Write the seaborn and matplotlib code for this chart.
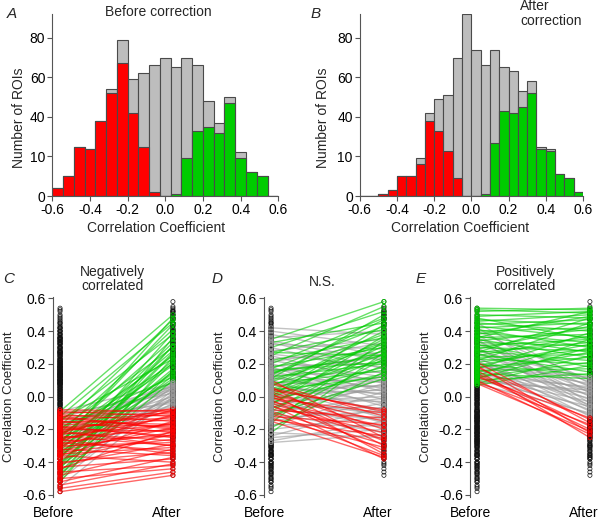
import numpy as np
import pandas as pd
import seaborn as sns
import matplotlib.pyplot as plt

# ---- histogram counts (panels A and B) ----
edges_A = np.linspace(-0.6, 0.6, 22)
total_A = [4, 10, 25, 24, 38, 54, 79, 59, 62, 66, 70, 65, 70, 66, 48, 37, 50, 22, 12, 10, 0]
red_A = [4, 10, 25, 24, 38, 52, 67, 42, 25, 2, 0, 0, 0, 0, 0, 0, 0, 0, 0, 0, 0]
green_A = [0, 0, 0, 0, 0, 0, 0, 0, 0, 0, 0, 1, 19, 33, 35, 32, 47, 19, 12, 10, 0]

edges_B = np.linspace(-0.6, 0.6, 25)
total_B = [0, 0, 1, 3, 10, 10, 19, 42, 49, 51, 70, 92, 74, 66, 74, 65, 63, 53, 58, 25, 24, 11, 9, 2]
red_B = [0, 0, 1, 3, 10, 10, 16, 38, 33, 23, 9, 0, 0, 0, 0, 0, 0, 0, 0, 0, 0, 0, 0, 0]
green_B = [0, 0, 0, 0, 0, 0, 0, 0, 0, 0, 0, 0, 0, 1, 27, 43, 42, 45, 52, 24, 23, 11, 9, 2]

hist_yticks = [0, 20, 40, 60, 80]
hist_ylabels = ['0', '10', '40', '60', '80']
r_ticks = [-0.6, -0.4, -0.2, 0.0, 0.2, 0.4, 0.6]
r_labels = ['-0.6', '-0.4', '-0.2', '0.0', '0.2', '0.4', '0.6']

# ---- ROI correlation before / after (panels C, D, E) ----
# C: negatively correlated before correction
c_before = [-0.08, -0.09, -0.10, -0.11, -0.12, -0.13, -0.14, -0.15, -0.16, -0.17, -0.18, -0.19, -0.20,
            -0.21, -0.22, -0.23, -0.24, -0.25, -0.26, -0.27, -0.28, -0.29, -0.30, -0.31, -0.32, -0.33,
            -0.34, -0.35, -0.36, -0.38, -0.40, -0.41, -0.43, -0.44, -0.46, -0.48, -0.50, -0.52, -0.54,
            -0.56, -0.58, -0.22, -0.26, -0.19, -0.30, -0.15, -0.21, -0.27, -0.12, -0.36,
            -0.09, -0.12, -0.15, -0.18, -0.20, -0.22, -0.24, -0.25, -0.27, -0.28, -0.30, -0.31, -0.33,
            -0.35, -0.36, -0.38, -0.40, -0.41, -0.43, -0.44, -0.46, -0.47, -0.49, -0.50, -0.52, -0.19,
            -0.23, -0.29, -0.34, -0.42, -0.14, -0.26, -0.37,
            -0.09, -0.11, -0.13, -0.16, -0.18, -0.21, -0.23, -0.26, -0.28, -0.31, -0.33, -0.35, -0.38,
            -0.40, -0.42, -0.45, -0.47, -0.51, -0.55, -0.20, -0.24, -0.17, -0.29, -0.36, -0.14]
c_after = [-0.09, -0.12, -0.08, -0.15, -0.10, -0.19, -0.11, -0.22, -0.13, -0.18, -0.25, -0.14, -0.21,
           -0.09, -0.27, -0.17, -0.30, -0.20, -0.12, -0.24, -0.33, -0.16, -0.28, -0.22, -0.36, -0.19,
           -0.26, -0.31, -0.40, -0.23, -0.34, -0.29, -0.38, -0.21, -0.42, -0.32, -0.44, -0.37, -0.41,
           -0.46, -0.48, -0.07, -0.35, -0.24, -0.11, -0.17, -0.30, -0.08, -0.20, -0.15,
           0.50, 0.45, 0.38, 0.47, 0.30, 0.41, 0.25, 0.35, 0.19, 0.44, 0.28, 0.14, 0.33,
           0.22, 0.11, 0.39, 0.17, 0.27, 0.13, 0.31, 0.21, 0.10, 0.36, 0.16, 0.24, 0.12,
           0.20, 0.48, 0.15, 0.26, 0.23, 0.09, 0.31,
           0.08, 0.02, 0.06, -0.03, 0.04, 0.00, 0.07, -0.05, 0.03, 0.08, -0.02, 0.05, 0.01,
           -0.04, 0.06, 0.02, -0.01, 0.04, 0.00, 0.09, -0.06, 0.05, -0.01, 0.07, -0.04]
c_group = ['neg'] * 50 + ['pos'] * 33 + ['ns'] * 25

# D: not significant before correction
d_before = [0.42, 0.40, 0.38, 0.36, 0.34, 0.32, 0.30, 0.28, 0.26, 0.25, 0.23, 0.22, 0.20, 0.19, 0.18,
            0.17, 0.16, 0.15, 0.14, 0.13, 0.12, 0.11, 0.10, 0.09, 0.08, 0.07, 0.06, 0.05, 0.04, 0.03,
            0.02, 0.01, 0.00, -0.01, -0.02, -0.03, -0.04, -0.05, -0.06, -0.07, -0.08, -0.09, -0.10,
            -0.12, -0.13, -0.15, -0.17, -0.18, -0.20, -0.22, -0.24, -0.25, -0.27, -0.28, 0.21, 0.33,
            0.14, -0.11,
            0.35, 0.33, 0.30, 0.27, 0.25, 0.22, 0.20, 0.18, 0.17, 0.15, 0.14, 0.12, 0.11, 0.10, 0.08,
            0.07, 0.06, 0.05, 0.04, 0.03, 0.02, 0.01, 0.00, -0.01, -0.02, -0.04, -0.05, -0.07, -0.09,
            -0.11, -0.13, -0.16, -0.19, -0.22, 0.16, 0.13, 0.09, 0.27,
            0.10, 0.08, 0.06, 0.04, 0.03, 0.02, 0.01, 0.00, -0.01, -0.02, -0.03, -0.05, -0.06, -0.08,
            -0.09, -0.10, -0.12, -0.13, -0.14, -0.15, 0.05, -0.04]
d_after = [0.38, 0.31, 0.25, 0.40, 0.22, 0.29, 0.14, 0.35, 0.18, 0.08, 0.27, 0.12, 0.03, 0.20, -0.02,
           0.10, 0.24, 0.05, -0.06, 0.15, 0.01, 0.09, -0.10, 0.06, -0.04, 0.12, -0.13, 0.02, -0.08, 0.07,
           -0.16, 0.04, -0.03, 0.10, -0.11, 0.00, -0.19, 0.05, -0.07, 0.13, -0.14, -0.01, -0.22,
           0.08, -0.09, -0.04, -0.18, 0.03, -0.12, -0.25, -0.06, -0.20, -0.15, -0.23, 0.33, 0.17,
           0.26, 0.11,
           0.58, 0.45, 0.52, 0.41, 0.55, 0.36, 0.48, 0.30, 0.43, 0.25, 0.38, 0.20, 0.50, 0.33, 0.16,
           0.28, 0.40, 0.22, 0.12, 0.35, 0.26, 0.18, 0.44, 0.31, 0.14, 0.24, 0.37, 0.19, 0.29,
           0.11, 0.23, 0.34, 0.15, 0.27, 0.21, 0.47, 0.32, 0.25,
           -0.25, -0.12, -0.30, -0.08, -0.20, -0.35, -0.15, -0.27, -0.10, -0.33, -0.18, -0.38, -0.22,
           -0.13, -0.29, -0.36, -0.17, -0.31, -0.24, -0.37, -0.09, -0.26]
d_group = ['ns'] * 58 + ['pos'] * 38 + ['neg'] * 22

# E: positively correlated before correction
e_before = [0.54, 0.53, 0.52, 0.50, 0.49, 0.47, 0.46, 0.45, 0.44, 0.43, 0.42, 0.41, 0.40, 0.39, 0.38,
            0.37, 0.36, 0.35, 0.34, 0.33, 0.32, 0.31, 0.30, 0.29, 0.28, 0.27, 0.26, 0.25, 0.24, 0.23,
            0.22, 0.21, 0.20, 0.19, 0.18, 0.17, 0.16, 0.15, 0.14, 0.13, 0.12, 0.11, 0.10, 0.08, 0.07,
            0.48, 0.36, 0.27,
            0.45, 0.42, 0.40, 0.38, 0.36, 0.34, 0.32, 0.30, 0.29, 0.27, 0.26, 0.24, 0.23, 0.21, 0.20,
            0.19, 0.17, 0.16, 0.15, 0.14, 0.13, 0.12, 0.11, 0.10, 0.09, 0.08, 0.28, 0.22, 0.18, 0.35,
            0.21, 0.19, 0.18, 0.16, 0.14, 0.13, 0.12, 0.10, 0.09, 0.08]
e_after = [0.53, 0.51, 0.54, 0.48, 0.52, 0.44, 0.50, 0.40, 0.47, 0.36, 0.45, 0.30, 0.42, 0.33, 0.49,
           0.27, 0.38, 0.24, 0.41, 0.31, 0.18, 0.35, 0.28, 0.43, 0.22, 0.33, 0.15, 0.37, 0.26, 0.20,
           0.45, 0.29, 0.13, 0.32, 0.24, 0.39, 0.17, 0.27, 0.11, 0.35, 0.21, 0.30, 0.14, 0.25, 0.19,
           0.35, 0.52, 0.48,
           0.08, 0.02, 0.10, -0.04, 0.06, 0.00, 0.09, -0.07, 0.04, -0.02, 0.07, -0.09, 0.03, -0.05, 0.08,
           0.01, -0.08, 0.05, -0.01, -0.11, 0.06, -0.03, 0.02, -0.06, 0.04, -0.10, 0.11, -0.12, 0.12, -0.06,
           -0.16, -0.22, -0.14, -0.25, -0.18, -0.20, -0.13, -0.23, -0.17, -0.21]
e_group = ['pos'] * 48 + ['ns'] * 30 + ['neg'] * 10

RED = '#ff0000'
GREEN = '#00cc00'
LINE_GRAY = '#9a9a9a'
BAR_GRAY = '#bdbdbd'
EDGE = '#4a4a4a'
SPINE = '#555555'
colors = {'neg': RED, 'ns': LINE_GRAY, 'pos': GREEN}

sns.set_style('ticks')
plt.rcParams['font.family'] = ['Liberation Sans', 'DejaVu Sans']
plt.rcParams['axes.edgecolor'] = SPINE
plt.rcParams['xtick.color'] = SPINE
plt.rcParams['ytick.color'] = SPINE
plt.rcParams['xtick.labelcolor'] = 'black'
plt.rcParams['ytick.labelcolor'] = 'black'

W, H = 598, 521
fig = plt.figure(figsize=(W / 100, H / 100), dpi=100)


def px_axes(left, top, right, bottom):
    return fig.add_axes([left / W, 1 - bottom / H, (right - left) / W, (bottom - top) / H])


def hist_panel(ax, edges, total, red, green):
    centers = (edges[:-1] + edges[1:]) / 2
    bins = list(edges)
    for counts, col in [(total, BAR_GRAY), (red, RED), (green, GREEN)]:
        df = pd.DataFrame({'r': centers, 'n': counts})
        sns.histplot(data=df, x='r', weights='n', bins=bins, color=col, alpha=1,
                     edgecolor=EDGE, linewidth=0.8, ax=ax)
    ax.set_xlim(-0.6, 0.6)
    ax.set_ylim(0, 92)
    ax.set_xticks(r_ticks, r_labels)
    ax.set_yticks(hist_yticks, hist_ylabels)
    ax.tick_params(labelsize=10, length=3.5, width=0.8, pad=1.5)
    sns.despine(ax=ax)
    ax.set_xlabel('Correlation Coefficient', fontsize=10)
    ax.set_ylabel('Number of ROIs', fontsize=10)


axA = px_axes(52.3, 14, 278.3, 196)
hist_panel(axA, edges_A, total_A, red_A, green_A)
axA.xaxis.set_label_coords(0.457, -0.14)
axA.yaxis.set_label_coords(-0.118, 0.43)
axA.text(0.47, 0.99, 'Before correction', transform=axA.transAxes, ha='center', va='baseline', fontsize=10)

axB = px_axes(359.7, 14, 583, 196)
hist_panel(axB, edges_B, total_B, red_B, green_B)
axB.xaxis.set_label_coords(0.451, -0.14)
axB.yaxis.set_label_coords(-0.135, 0.43)
axB.text(0.718, 1.08, 'After\ncorrection', transform=axB.transAxes, ha='left', va='top',
         fontsize=10, linespacing=1.05)

fig.text(7 / W, 1 - 18 / H, 'A', fontsize=11, style='italic')
fig.text(311 / W, 1 - 18 / H, 'B', fontsize=11, style='italic')

# ---- slope panels ----
all_before = np.array(c_before + d_before + e_before)
all_after = np.array(c_after + d_after + e_after)


def slope_panel(ax, before, after, group, base):
    n = len(before)
    df = pd.DataFrame({'roi': np.repeat(np.arange(n), 2),
                       'x': np.tile([0, 1], n),
                       'r': np.column_stack([before, after]).ravel(),
                       'grp': np.repeat(group, 2)})
    for g in ['ns', 'pos', 'neg']:
        sub = df[df.grp == g]
        if len(sub):
            sns.lineplot(data=sub, x='x', y='r', units='roi', estimator=None, color=colors[g],
                         lw=1.0, alpha=0.6, ax=ax, legend=False)
    ax.scatter(np.zeros(len(all_before)), all_before, s=9, facecolors='none',
               edgecolors='#111111', linewidths=0.5, zorder=3)
    ax.scatter(np.ones(len(all_after)), all_after, s=9, facecolors='none',
               edgecolors='#111111', linewidths=0.5, zorder=3)
    ax.scatter(np.zeros(n), before, s=9, facecolors='none', edgecolors=base, linewidths=0.6, zorder=4)
    ax.scatter(np.ones(n), after, s=9, facecolors='none',
               edgecolors=[colors[g] for g in group], linewidths=0.6, zorder=4)
    ax.set_xlim(-0.065, 1.06)
    ax.set_ylim(-0.61, 0.61)
    ax.set_yticks(r_ticks, r_labels)
    ax.set_xticks([-0.055, 0.945], ['Before', 'After'])
    ax.tick_params(axis='y', labelsize=10, length=3.5, width=0.8, pad=1.5)
    ax.tick_params(axis='x', labelsize=10, length=0, pad=7)
    sns.despine(ax=ax, bottom=True)
    ax.set_xlabel('')
    ax.set_ylabel('Correlation Coefficient', fontsize=9.5)
    ax.yaxis.set_label_coords(-0.295, 0.5)


axC = px_axes(52.7, 296.7, 179.7, 496.6)
slope_panel(axC, c_before, c_after, c_group, RED)
axC.text(0.467, 1.02, 'Negatively\ncorrelated', transform=axC.transAxes, ha='center', va='bottom',
         fontsize=10, linespacing=1.0)

axD = px_axes(263.7, 296.7, 390.7, 496.6)
slope_panel(axD, d_before, d_after, d_group, LINE_GRAY)
axD.text(0.459, 1.04, 'N.S.', transform=axD.transAxes, ha='center', va='bottom', fontsize=10)

axE = px_axes(469.7, 296.7, 596.7, 496.6)
slope_panel(axE, e_before, e_after, e_group, GREEN)
axE.text(0.435, 1.02, 'Positively\ncorrelated', transform=axE.transAxes, ha='center', va='bottom',
         fontsize=10, linespacing=1.0)

fig.text(3 / W, 1 - 283 / H, 'C', fontsize=11, style='italic')
fig.text(212 / W, 1 - 283 / H, 'D', fontsize=11, style='italic')
fig.text(416 / W, 1 - 283 / H, 'E', fontsize=11, style='italic')

fig.savefig('out.png', dpi=100)
